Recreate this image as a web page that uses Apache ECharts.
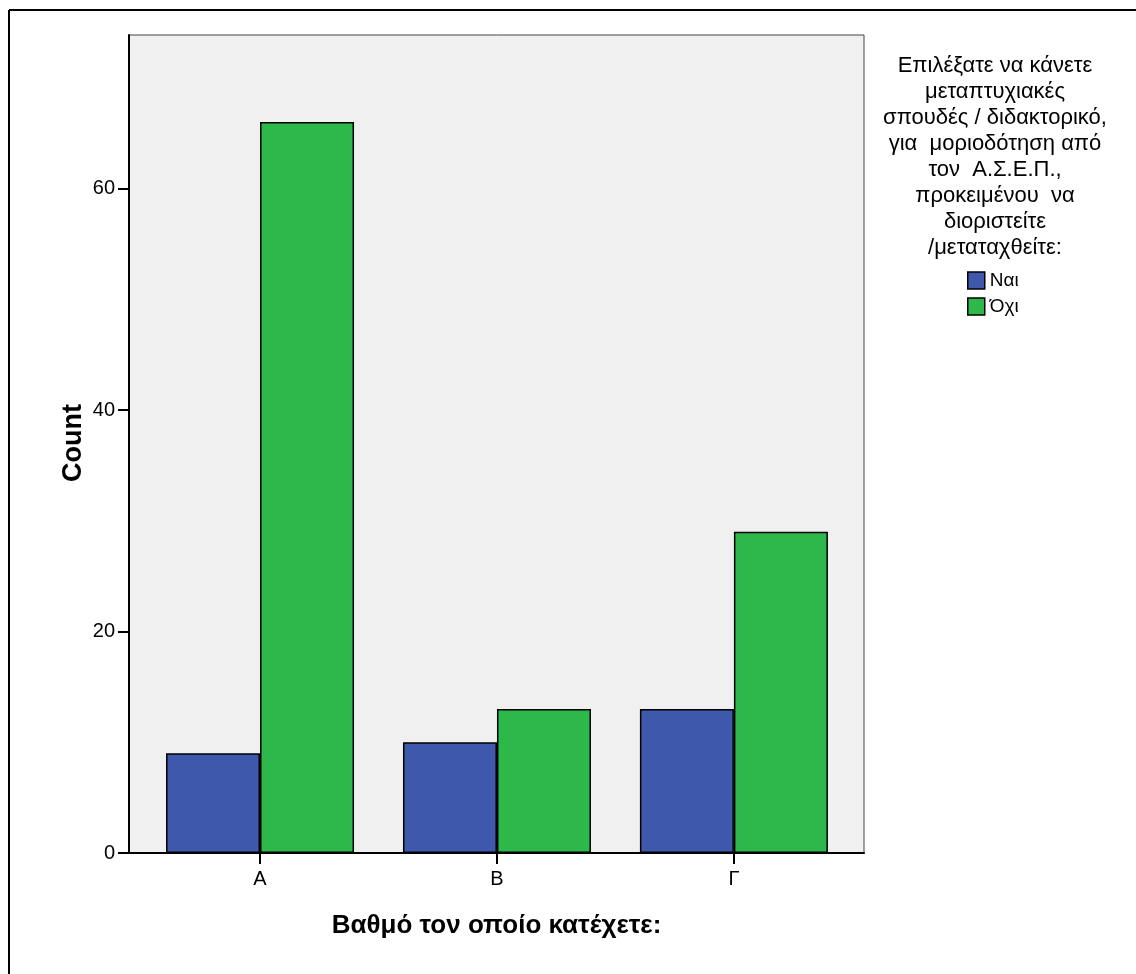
<!DOCTYPE html>
<html>
<head>
<meta charset="utf-8">
<script src="https://cdn.jsdelivr.net/npm/echarts@6/dist/echarts.min.js"></script>
<style>
html,body{margin:0;padding:0;background:#fff;}
#chart{width:1136px;height:974px;}
</style>
</head>
<body>
<div id="chart"></div>
<script>
var categories = ['A', 'B', 'Γ'];
var seriesNames = ['Ναι', 'Όχι'];
var valuesYes = [9, 10, 13];
var valuesNo = [66, 13, 29];
var yTicks = [0, 20, 40, 60];
var legendTitle = ['Επιλέξατε να κάνετε', 'μεταπτυχιακές', 'σπουδές / διδακτορικό,', 'για  μοριοδότηση από', 'τον  Α.Σ.Ε.Π.,', 'προκειμένου  να', 'διοριστείτε', '/μεταταχθείτε:'];
var xTitle = 'Βαθμό τον οποίο κατέχετε:';
var yTitle = 'Count';

var FONT = '"Liberation Sans", Arial, sans-serif';
var NARROW = '"Liberation Sans Narrow", "Liberation Sans", Arial, sans-serif';
var catIdx = categories.map(function (c, i) { return i; });
function pairs(vals) { return vals.map(function (v, i) { return [i, v]; }); }

var chart = echarts.init(document.getElementById('chart'), null, {renderer: 'canvas'});
chart.setOption({
  animation: false,
  backgroundColor: '#ffffff',
  textStyle: {fontFamily: FONT},
  grid: {
    left: 129, right: 272, top: 35, bottom: 121,
    show: true, backgroundColor: '#f0f0f0', borderColor: '#444444', borderWidth: 1
  },
  legend: {
    orient: 'vertical',
    left: 962, top: 266,
    itemWidth: 17, itemHeight: 17, itemGap: 7,
    icon: 'rect',
    itemStyle: {borderColor: '#000', borderWidth: 1.5},
    textStyle: {fontFamily: NARROW, fontSize: 19, lineHeight: 17, color: '#000'},
    data: seriesNames
  },
  xAxis: {
    type: 'value',
    min: -0.553, max: 2.549,
    name: xTitle,
    nameLocation: 'middle',
    nameGap: 60,
    nameTextStyle: {fontFamily: FONT, fontSize: 26, fontWeight: 'bold', color: '#000'},
    axisLine: {show: true, onZero: false, lineStyle: {color: '#000', width: 2}},
    axisTick: {show: true, customValues: catIdx, length: 11, lineStyle: {color: '#000', width: 2}},
    axisLabel: {
      customValues: catIdx, margin: 16, fontSize: 20, color: '#000', fontFamily: NARROW,
      formatter: function (v) { return categories[Math.round(v)]; }
    },
    splitLine: {show: false}
  },
  yAxis: {
    type: 'value',
    min: 0, max: 73.86,
    axisLine: {show: true, onZero: false, lineStyle: {color: '#000', width: 2}},
    axisTick: {show: true, customValues: yTicks, length: 11, lineStyle: {color: '#000', width: 2}},
    axisLabel: {customValues: yTicks, margin: 14, fontSize: 20, color: '#000', fontFamily: NARROW},
    splitLine: {show: false}
  },
  series: [
    {
      name: seriesNames[0], type: 'bar', data: pairs(valuesYes),
      barWidth: 94, barGap: '0%',
      itemStyle: {color: '#3e58ac', borderColor: '#000', borderWidth: 1.5}
    },
    {
      name: seriesNames[1], type: 'bar', data: pairs(valuesNo),
      barWidth: 94, barGap: '0%',
      itemStyle: {color: '#2fb84a', borderColor: '#000', borderWidth: 1.5}
    }
  ],
  graphic: [
    {type: 'line', shape: {x1: 9, y1: 10, x2: 1136, y2: 10}, style: {stroke: '#000', lineWidth: 2}},
    {type: 'line', shape: {x1: 9, y1: 10, x2: 9, y2: 974}, style: {stroke: '#000', lineWidth: 2}},
    {
      type: 'text', x: 74, y: 443, rotation: Math.PI / 2,
      style: {
        text: yTitle, fill: '#000', font: 'bold 27px ' + FONT,
        textAlign: 'center', textVerticalAlign: 'middle'
      }
    },
    {
      type: 'text', x: 995, y: 53,
      style: {
        text: legendTitle.join('\n'), fill: '#000', font: '22px ' + FONT,
        textAlign: 'center', lineHeight: 26
      }
    }
  ]
});
</script>
</body>
</html>
